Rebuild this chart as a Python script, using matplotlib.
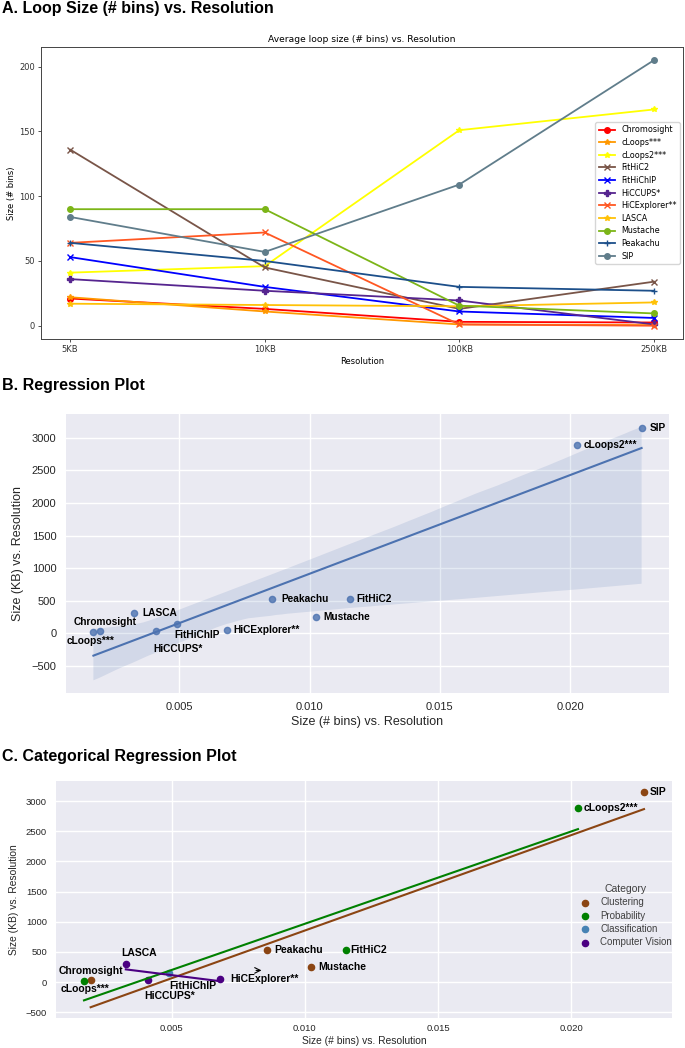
#!/usr/bin/env python3
"""Loop size vs resolution + regression plots (three stacked panels)."""
import numpy as np
import matplotlib as mpl
import matplotlib.pyplot as plt
import matplotlib.transforms as mtransforms
import seaborn as sns

mpl.rcParams.update({'font.family': ['Liberation Sans', 'DejaVu Sans'],
                     'axes.unicode_minus': True})

# ---------------- A: average loop size (# bins) per resolution ----------------
resolutions = ['5KB', '10KB', '100KB', '250KB']
tools = ['Chromosight', 'cLoops***', 'cLoops2***', 'FitHiC2', 'FitHiChIP', 'HiCCUPS*',
         'HiCExplorer**', 'LASCA', 'Mustache', 'Peakachu', 'SIP']
chromosight = [21, 13, 3, 2.5]
cloops = [22, 11, 1, 0.5]
cloops2 = [41, 46, 151, 167]
fithic2 = [136, 45, 13, 34]
fithichip = [53, 30, 11, 6]
hiccups = [36, 27, 19.5, 1]
hicexplorer = [64, 72, 1, 0]
lasca = [17, 16, 15, 18]
mustache = [90, 90, 15.5, 9.5]
peakachu = [64, 50, 30, 27]
sip = [84, 57, 109, 205]
series_a = [chromosight, cloops, cloops2, fithic2, fithichip, hiccups,
            hicexplorer, lasca, mustache, peakachu, sip]

colors_a = ['#ff0000', '#ff9800', '#ffff00', '#795548', '#0000ff', '#56258f',
            '#ff5722', '#ffc107', '#7cb518', '#1c4f8a', '#607d8b']
markers_a = ['o', '*', '*', 'x', 'x', 'P', 'x', '*', 'o', '+', 'o']

# ---------------- B / C: regression data ----------------
loop_tools = ['cLoops***', 'Chromosight', 'LASCA', 'HiCCUPS*', 'FitHiChIP', 'HiCExplorer**',
              'Peakachu', 'Mustache', 'FitHiC2', 'cLoops2***', 'SIP']
bins_vs_res = [0.0017, 0.00195, 0.00327, 0.00411, 0.0049, 0.00682,
               0.00857, 0.01023, 0.01153, 0.02026, 0.02274]
kb_vs_res = [12, 38, 308, 38, 148, 45, 527, 253, 533, 2890, 3155]
category = ['Probability', 'Clustering', 'Computer Vision', 'Computer Vision', 'Classification',
            'Computer Vision', 'Clustering', 'Clustering', 'Probability', 'Probability', 'Clustering']
categories = ['Clustering', 'Probability', 'Classification', 'Computer Vision']
cat_colors = ['#8B4513', '#008000', '#4682B4', '#4B0082']

# label placement (pixel offsets from the point, ha)
b_offsets = {'SIP': (8, 0, 'left'), 'cLoops2***': (7, 0, 'left'), 'Peakachu': (9, 0, 'left'),
             'FitHiC2': (7, 0, 'left'), 'Mustache': (8, 0, 'left'), 'HiCExplorer**': (7, 0, 'left'),
             'LASCA': (8, 0, 'left'), 'FitHiChIP': (-2, -11, 'left'), 'HiCCUPS*': (-3, -18, 'left'),
             'Chromosight': (5, 9, 'center'), 'cLoops***': (-3, -9, 'center')}
c_offsets = {'SIP': (6, 0, 'left'), 'cLoops2***': (6, 0, 'left'), 'Peakachu': (7, 0, 'left'),
             'FitHiC2': (5, 0, 'left'), 'Mustache': (7, 0, 'left'), 'HiCExplorer**': (10, 0, 'left'),
             'LASCA': (13, 11, 'center'), 'FitHiChIP': (0, -13, 'left'), 'HiCCUPS*': (-4, -16, 'left'),
             'Chromosight': (0, 9, 'center'), 'cLoops***': (1, -8, 'center')}

W, H = 685, 1048
PT = 0.72  # points per pixel at dpi 100
fig = plt.figure(figsize=(W / 100, H / 100), dpi=100)


def px_axes(l, t, r, b):
    return fig.add_axes([l / W, 1 - b / H, (r - l) / W, (b - t) / H])


def darkgrid(ax):
    ax.set_facecolor('#EAEAF2')
    ax.grid(True, color='white', linewidth=1)
    ax.set_axisbelow(True)
    for s in ax.spines.values():
        s.set_visible(False)


def label_points(ax, offsets, size):
    for name, x, y in zip(loop_tools, bins_vs_res, kb_vs_res):
        dx, dy, ha = offsets[name]
        ax.annotate(name, (x, y), xytext=(dx * PT, dy * PT), textcoords='offset points',
                    ha=ha, va='center', fontsize=size, fontweight='bold', color='black')


# section headings
fig.text(2 / W, 1 - 1 / H, 'A. Loop Size (# bins) vs. Resolution', fontsize=11.5,
         fontweight='bold', va='top')
fig.text(2 / W, 1 - 378 / H, 'B. Regression Plot', fontsize=11.5, fontweight='bold', va='top')
fig.text(2 / W, 1 - 749 / H, 'C. Categorical Regression Plot', fontsize=11.5,
         fontweight='bold', va='top')

# (A) line plot
axA = px_axes(41, 47, 683, 339)
xa = np.arange(len(resolutions))
for name, vals, c, m in zip(tools, series_a, colors_a, markers_a):
    axA.plot(xa, vals, color=c, marker=m, markersize=4, lw=1.3, label=name)
axA.set_xticks(xa, resolutions)
axA.set_yticks([0, 50, 100, 150, 200])
axA.tick_params(labelsize=6, length=2.5, width=0.6, pad=1.8, labelfontfamily='DejaVu Sans',
                colors='#333333')
axA.set_title('Average loop size (# bins) vs. Resolution', fontsize=6.6, pad=3.5,
              family='DejaVu Sans')
axA.set_xlabel('Resolution', fontsize=6, labelpad=2, family='DejaVu Sans')
axA.set_ylabel('Size (# bins)', fontsize=6, labelpad=2, family='DejaVu Sans')
axA.legend(loc='center right', prop={'family': 'DejaVu Sans', 'size': 5.8},
           borderaxespad=0.4, labelspacing=0.45)
for s in axA.spines.values():
    s.set_linewidth(0.7)
    s.set_color('#444444')

# (B) regression over all tools
axB = px_axes(66, 414, 669, 693)
darkgrid(axB)
sns.regplot(x=bins_vs_res, y=kb_vs_res, ax=axB, color='#4c72b0', seed=0,
            scatter_kws={'s': 20}, line_kws={'linewidth': 1.5})
axB.set_yticks(np.arange(-500, 3001, 500))
axB.tick_params(length=0, labelsize=8, labelcolor='#262626')
axB.tick_params(axis='y', pad=7)
axB.tick_params(axis='x', pad=6.5)
axB.set_xlabel('Size (# bins) vs. Resolution', fontsize=9, color='#262626', labelpad=3)
axB.set_ylabel('Size (KB) vs. Resolution', fontsize=9, color='#262626', labelpad=5)
label_points(axB, b_offsets, 7.3)

# (C) regression per category
axC = px_axes(56, 781, 672, 1018)
darkgrid(axC)
for cat, col in zip(categories, cat_colors):
    xs = [x for x, c in zip(bins_vs_res, category) if c == cat]
    ys = [y for y, c in zip(kb_vs_res, category) if c == cat]
    axC.scatter(xs, ys, s=20, color=col, label=cat, zorder=2)
for cat, col in zip(categories, cat_colors):
    xs = [x for x, c in zip(bins_vs_res, category) if c == cat]
    ys = [y for y, c in zip(kb_vs_res, category) if c == cat]
    if len(xs) > 1:
        sns.regplot(x=xs, y=ys, ax=axC, scatter=False, ci=None, color=col,
                    line_kws={'linewidth': 1.5, 'zorder': 3})
axC.set_yticks(np.arange(-500, 3001, 500))
axC.tick_params(length=0, labelsize=6.8, labelcolor='#262626')
axC.tick_params(axis='y', pad=6.5)
axC.tick_params(axis='x', pad=4.5)
axC.set_xlabel('Size (# bins) vs. Resolution', fontsize=7.4, color='#262626', labelpad=2)
axC.set_ylabel('Size (KB) vs. Resolution', fontsize=7.4, color='#262626', labelpad=5)
label_points(axC, c_offsets, 7.5)
# small leftover arrow next to the HiCExplorer label
hx, hy = bins_vs_res[loop_tools.index('HiCExplorer**')], kb_vs_res[loop_tools.index('HiCExplorer**')]
arrow_tr = mtransforms.offset_copy(axC.transData, fig=fig, x=44 * PT, y=9 * PT, units='points')
axC.annotate('', xy=(hx, hy), xycoords=arrow_tr, xytext=(-11 * PT, 0), textcoords='offset points',
             arrowprops=dict(arrowstyle='->', color='black', lw=0.8))
leg = axC.legend(title='Category', loc='upper left',
                 bbox_to_anchor=((571 - 56) / 616, (1018 - 875) / 237), frameon=False,
                 fontsize=7, title_fontsize=7.5, handlelength=1.0, handletextpad=1.1,
                 labelspacing=0.35, borderpad=0.4, labelcolor='#404040')
leg.get_title().set_color('#404040')

fig.savefig('out.png', dpi=100)
